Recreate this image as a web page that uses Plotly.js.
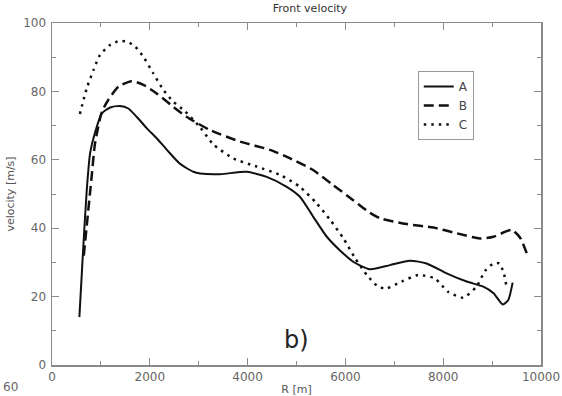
<!DOCTYPE html>
<html>
<head>
<meta charset="utf-8">
<script src="https://cdn.plot.ly/plotly-3.0.1.min.js"></script>
<style>html,body{margin:0;padding:0;background:#fff;}#chart{width:562px;height:396px;}</style>
</head>
<body>
<div id="chart"></div>
<script>
const seriesNames = ["A", "B", "C"];

const A_R = [560, 630, 710, 780, 880, 1020, 1190, 1390, 1560, 1730, 1940, 2140, 2350, 2620, 2890, 3030, 3440, 3980, 4390, 4800, 5070, 5340, 5620, 5890, 6160, 6500, 6910, 7320, 7660, 8070, 8480, 8820, 9030, 9220, 9330, 9420];
const A_v = [14, 32, 51, 62, 68, 73.6, 75.3, 75.7, 75, 72.6, 69.2, 66.3, 62.9, 58.8, 56.5, 56, 55.8, 56.5, 55, 52.1, 49.2, 43.4, 37.5, 33.5, 30.2, 28, 29.2, 30.5, 29.7, 26.8, 24.4, 22.9, 21, 17.7, 19, 24.1];

const B_R = [650, 810, 880, 1020, 1150, 1360, 1630, 1870, 2140, 2480, 2750, 3230, 3850, 4460, 4870, 5340, 5750, 6160, 6500, 6710, 7250, 7800, 8280, 8750, 9030, 9400, 9570, 9710];
const B_v = [32, 55, 64.8, 74, 77.5, 81.4, 83, 81.9, 79.4, 75.5, 72.6, 68.7, 65.3, 62.9, 60.4, 57, 52.6, 48.2, 44.5, 42.9, 41.2, 40.2, 38.5, 37, 37.5, 39.5, 37.3, 32.6];

const C_R = [570, 710, 850, 980, 1190, 1380, 1540, 1700, 1870, 2070, 2280, 2480, 2720, 3030, 3300, 3710, 4190, 4660, 5070, 5410, 5690, 5960, 6200, 6440, 6670, 6840, 7150, 7490, 7830, 8100, 8410, 8680, 8860, 9030, 9150, 9240, 9300];
const C_v = [73.4, 80.9, 86.3, 90.6, 93.6, 94.8, 94.5, 93.1, 90.1, 85.3, 80.4, 77, 74.2, 69.5, 64.5, 60.4, 58, 55.6, 52.1, 47.3, 42.4, 37, 31.2, 26.3, 22.9, 22.4, 24.4, 26.3, 25.3, 21.4, 19.7, 22.9, 27.6, 29.7, 29.7, 26.8, 22.4];

const FONT = "DejaVu Sans, sans-serif";
const AX = "#8a8a8a";

const traces = [
  {x: A_R, y: A_v, name: seriesNames[0], mode: "lines",
   line: {color: "#111", width: 2, dash: "solid", shape: "spline", smoothing: 0.6}},
  {x: B_R, y: B_v, name: seriesNames[1], mode: "lines",
   line: {color: "#111", width: 2.5, dash: "10px,5px", shape: "spline", smoothing: 0.6}},
  {x: C_R, y: C_v, name: seriesNames[2], mode: "lines",
   line: {color: "#111", width: 2.5, dash: "2.5px,5px", shape: "spline", smoothing: 0.6}}
];

const axisCommon = {
  showgrid: false, zeroline: false,
  showline: true, linecolor: AX, linewidth: 1.5, mirror: "ticks",
  ticks: "inside", ticklen: 7, tickwidth: 1.2, tickcolor: AX,
  tickfont: {family: FONT, size: 12, color: "#666"}
};

const layout = {
  width: 562, height: 396,
  margin: {l: 52, r: 21, t: 23, b: 31},
  paper_bgcolor: "#fff", plot_bgcolor: "#fff",
  font: {family: FONT, color: "#444"},
  title: {text: "Front velocity", font: {family: FONT, size: 11, color: "#333"},
          x: 0.5275, xanchor: "center", y: 0.98, yanchor: "middle", xref: "paper"},
  xaxis: Object.assign({}, axisCommon, {
    range: [0, 10000], tickvals: [0, 2000, 4000, 6000, 8000, 10000],
    ticktext: ["0", "2000", "4000", "6000", "8000", "10000"],
    minor: {ticks: "inside", ticklen: 4, tickwidth: 1, tickcolor: AX, dtick: 1000, tick0: 0},
    title: {text: "R [m]", font: {family: FONT, size: 11, color: "#555"}, standoff: 2}
  }),
  yaxis: Object.assign({}, axisCommon, {
    range: [0, 100], dtick: 20, tick0: 0,
    minor: {ticks: "inside", ticklen: 4, tickwidth: 1, tickcolor: AX, dtick: 10, tick0: 0},
    ticklabelstandoff: 2,
    title: {text: "velocity [m/s]", font: {family: FONT, size: 11, color: "#555"}, standoff: 6}
  }),
  showlegend: true,
  legend: {x: 0.748, y: 0.86, xanchor: "left", yanchor: "top",
           bgcolor: "#fff", bordercolor: "#999", borderwidth: 1,
           font: {family: FONT, size: 12, color: "#444"}, tracegroupgap: 0},
  annotations: [
    {text: "b)", x: 4990, y: 7.3, xref: "x", yref: "y", showarrow: false,
     font: {family: FONT, size: 24, color: "#222"}},
    {text: "60", x: -0.104, y: -0.064, xref: "paper", yref: "paper", xanchor: "left",
     yanchor: "middle", showarrow: false, font: {family: FONT, size: 12, color: "#666"}}
  ]
};

Plotly.newPlot("chart", traces, layout, {displayModeBar: false, staticPlot: true});
</script>
</body>
</html>
